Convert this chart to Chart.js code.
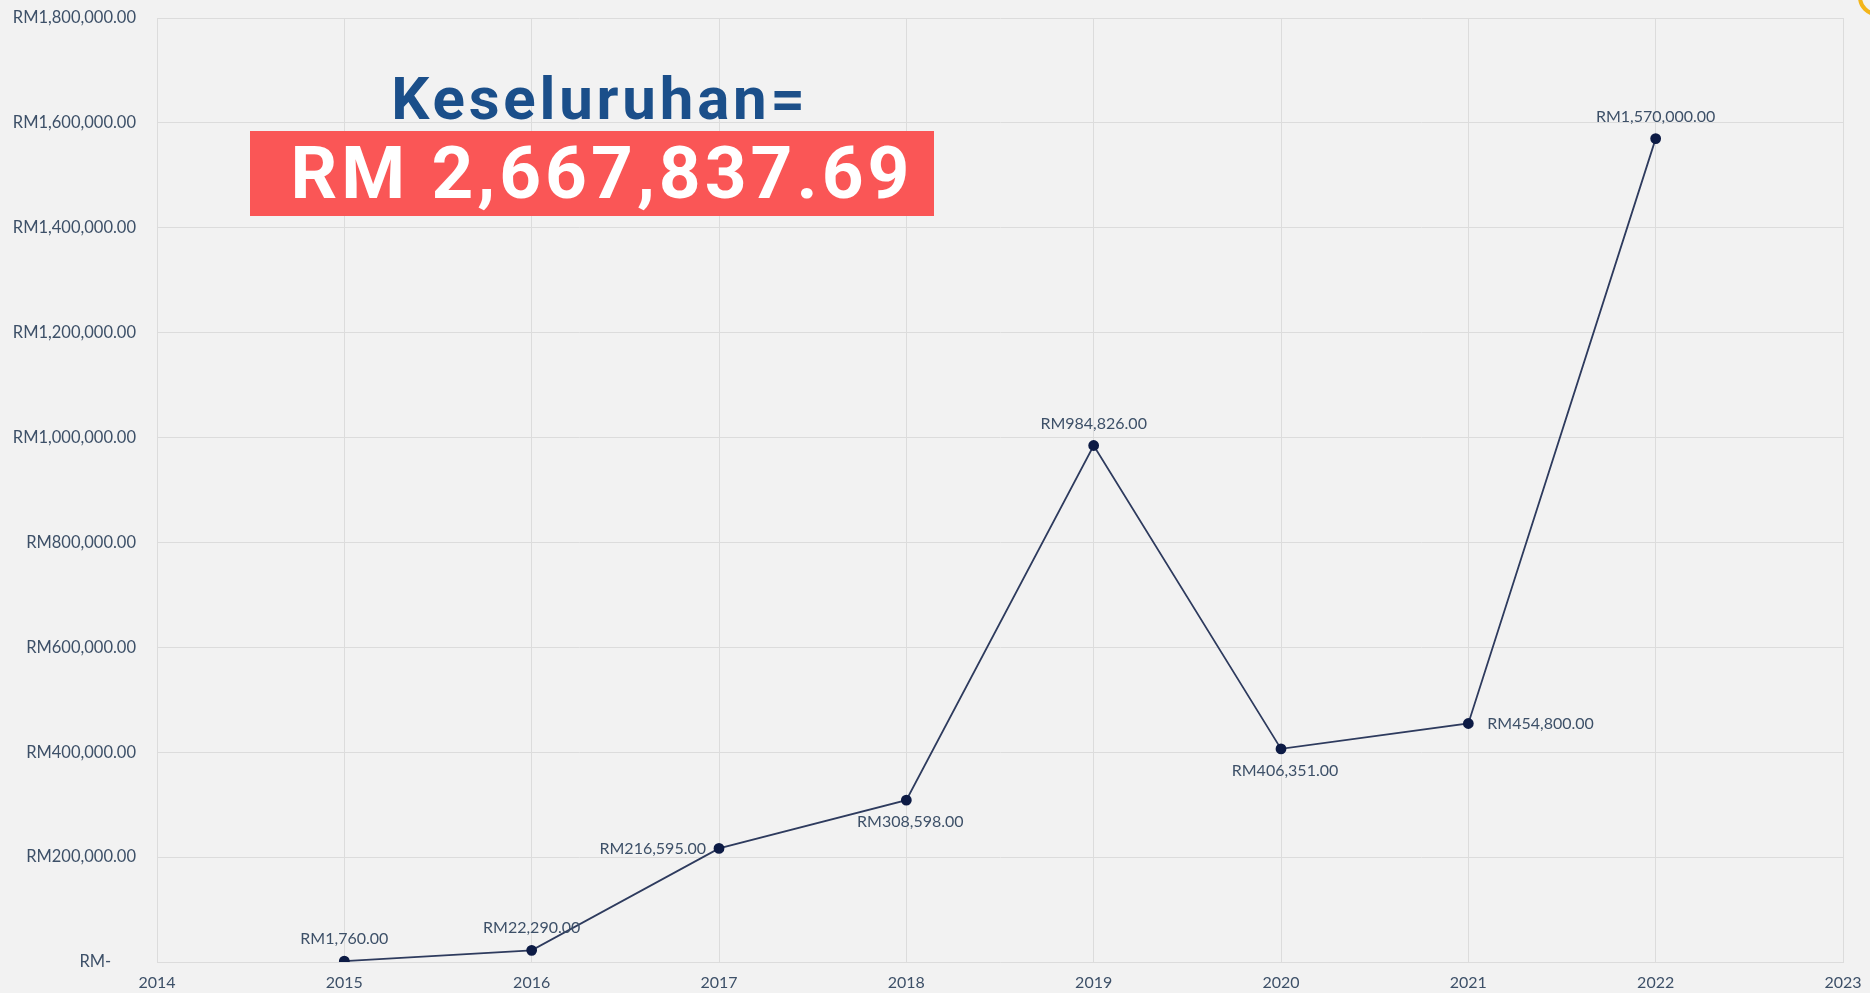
<!DOCTYPE html>
<html>
<head>
<meta charset="utf-8">
<script src="https://cdn.jsdelivr.net/npm/chart.js@4.4.1/dist/chart.umd.min.js"></script>
<style>
  html, body { margin: 0; padding: 0; background: #f2f2f2; overflow: hidden; }
  #wrap { position: relative; width: 1870px; height: 993px; }
  #myChart { position: absolute; left: 0; top: 0; }
  .title { position: absolute; left: 384px; top: 69px; width: 432px; text-align: center;
    font: bold 60px Roboto, sans-serif; line-height: 1; color: #1b4f8a; letter-spacing: 3.8px; white-space: nowrap; }
  .total { position: absolute; left: 250px; top: 131px; width: 684px; height: 85px; background: #fa5656;
    color: #fff; font: bold 73px Roboto, sans-serif; line-height: 85px; text-align: center; letter-spacing: 4px;
    white-space: nowrap; box-sizing: border-box; padding-left: 20px; }
  .corner { position: absolute; left: 1858px; top: -22px; width: 30px; height: 30px; border-radius: 50%;
    border: 4px solid #f3b51a; }
</style>
</head>
<body>
<div id="wrap">
  <canvas id="myChart" width="1870" height="993"></canvas>
  <div class="title">Keseluruhan=</div>
  <div class="total">RM 2,667,837.69</div>
  <div class="corner"></div>
</div>
<script>
(function(){
  'use strict';

  const years = ['2014', '2015', '2016', '2017', '2018', '2019', '2020', '2021', '2022', '2023'];
  const amounts = [null, 1760, 22290, 216595, 308598, 984826, 406351, 454800, 1570000, null];
  const yTicks = [0, 200000, 400000, 600000, 800000, 1000000, 1200000, 1400000, 1600000, 1800000];

  const textColor = '#3d5068';
  const fmt = v => v === 0 ? 'RM-\u2002\u2002\u2002' : 'RM' + v.toLocaleString('en-US', {minimumFractionDigits: 2, maximumFractionDigits: 2});

  // where each value label sits relative to its point
  const place = {'2015': 'above', '2016': 'above', '2017': 'left', '2018': 'below',
                 '2019': 'above', '2020': 'below', '2021': 'right', '2022': 'above'};

  const valueLabels = {
    id: 'valueLabels',
    afterDatasetsDraw(chart) {
      const c = chart.ctx;
      const meta = chart.getDatasetMeta(0);
      c.save();
      c.font = '16px Lato, sans-serif';
      c.fillStyle = textColor;
      meta.data.forEach((pt, i) => {
        const v = amounts[i];
        if (v === null) return;
        const p = place[years[i]];
        let x = pt.x, y = pt.y;
        c.textAlign = 'center';
        c.textBaseline = 'middle';
        if (p === 'above') y -= 22;
        else if (p === 'below') { y += 22; x += 4; }
        else if (p === 'left') { c.textAlign = 'right'; x -= 13; }
        else if (p === 'right') { c.textAlign = 'left'; x += 19; }
        c.fillText(fmt(v), x, y);
      });
      c.restore();
    }
  };

  new Chart(document.getElementById('myChart'), {
    type: 'line',
    data: {
      labels: years,
      datasets: [{
        data: amounts,
        borderColor: '#2e3b5e',
        borderWidth: 1.8,
        pointBackgroundColor: '#0d1b45',
        pointBorderColor: '#0d1b45',
        pointRadius: 4.5,
        tension: 0,
        spanGaps: false
      }]
    },
    options: {
      responsive: false,
      animation: false,
      layout: { padding: { left: 0, right: 27, top: 18, bottom: 0 } },
      plugins: { legend: { display: false }, tooltip: { enabled: false } },
      scales: {
        x: {
          offset: false,
          grid: { color: '#dcdcdc', drawTicks: false },
          border: { color: '#dcdcdc' },
          ticks: { color: textColor, font: { family: 'Lato', size: 16 }, padding: 11, maxRotation: 0, autoSkip: false },
          afterFit: s => { s.height = 31; s.paddingLeft = 0; s.paddingRight = 0; }
        },
        y: {
          min: 0,
          max: 1800000,
          afterBuildTicks: s => { s.ticks = yTicks.map(v => ({value: v})); },
          grid: { color: '#dcdcdc', drawTicks: false },
          border: { color: '#dcdcdc' },
          ticks: { color: textColor, font: { family: 'Lato', size: 16.5 }, padding: 21, callback: v => fmt(v) },
          afterFit: s => { s.width = 157; s.paddingTop = 0; s.paddingBottom = 0; }
        }
      }
    },
    plugins: [valueLabels]
  });
})();
</script>
</body>
</html>
